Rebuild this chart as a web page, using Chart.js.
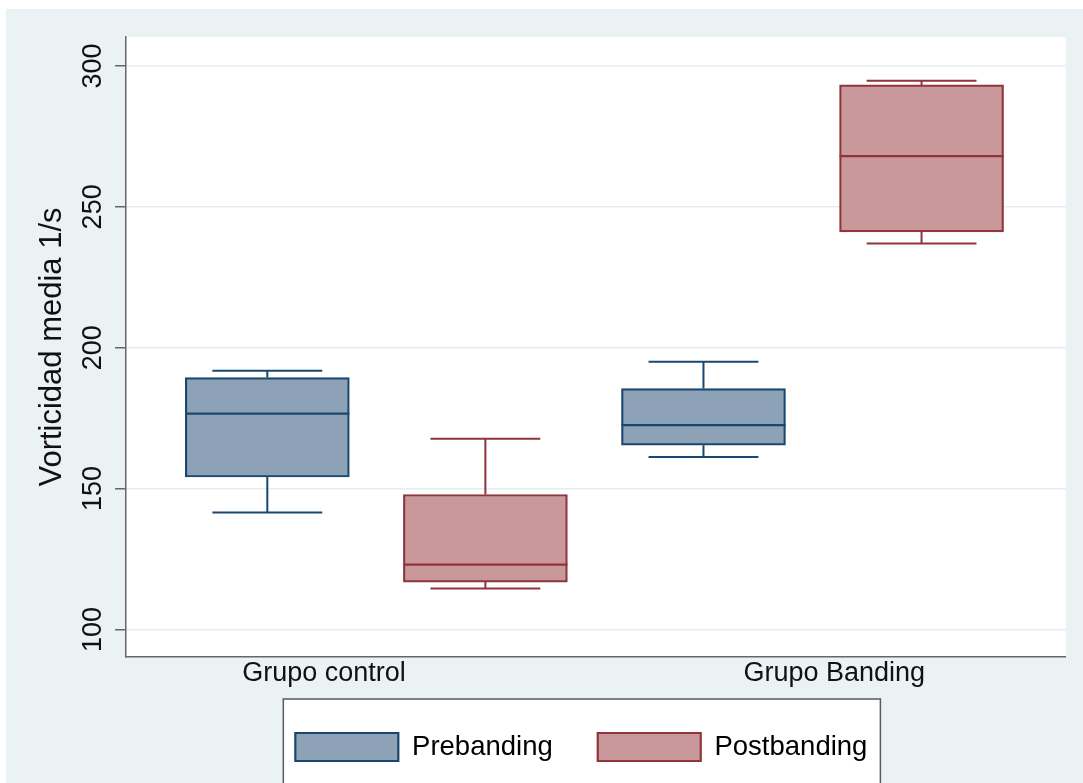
<!DOCTYPE html>
<html>
<head>
<meta charset="utf-8">
<title>Vorticidad media</title>
<script src="https://cdn.jsdelivr.net/npm/chart.js@4.4.1/dist/chart.umd.min.js"></script>
<style>
  html, body { margin: 0; padding: 0; background: #ffffff; }
  #wrap { position: absolute; left: 6px; top: 9px; width: 1077px; height: 774px; }
  canvas { display: block; }
</style>
</head>
<body>
<div id="wrap"><canvas id="chart" width="1077" height="774"></canvas></div>
<script>
// Groups and series
const groups = ['Grupo control', 'Grupo Banding'];
const seriesNames = ['Prebanding', 'Postbanding'];

// Five-number summaries per group (lower whisker, Q1, median, Q3, upper whisker)
const preMin    = [141.5, 161.2];
const preQ1     = [154.1, 165.4];
const preMedian = [176.6, 172.5];
const preQ3     = [189.4, 185.5];
const preMax    = [191.8, 195.0];

const postMin    = [114.5, 237.0];
const postQ1     = [116.8, 241.1];
const postMedian = [123.0, 268.0];
const postQ3     = [147.9, 293.3];
const postMax    = [167.7, 294.8];

// Y axis tick labels
const yTicks = [100, 150, 200, 250, 300];

// Box slots along the x axis (control pre/post, banding pre/post) and where group names sit
const preSlots = [1, 3];
const postSlots = [2, 4];
const groupLabelSlots = [1.26, 3.6];

const FONT = '"Liberation Sans", Arial, Helvetica, sans-serif';
const PRE_LINE = '#1A476F', PRE_FILL = '#8DA2B6';
const POST_LINE = '#90353B', POST_FILL = '#C8989B';

const boxData = (slots, q1, q3) => slots.map((x, i) => ({ x: x, y: [q1[i], q3[i]] }));

// Median line and whiskers drawn on top of each box, positioned through the y scale
const boxWhiskers = {
  id: 'boxWhiskers',
  afterDatasetsDraw(chart) {
    const ctx = chart.ctx;
    const yScale = chart.scales.y;
    chart.data.datasets.forEach((ds, di) => {
      const meta = chart.getDatasetMeta(di);
      meta.data.forEach((bar, i) => {
        const half = bar.width / 2;
        const cap = bar.width * 0.335;
        const pQ1 = yScale.getPixelForValue(ds.data[i].y[0]);
        const pQ3 = yScale.getPixelForValue(ds.data[i].y[1]);
        const pMed = yScale.getPixelForValue(ds.stats.median[i]);
        const pLo = yScale.getPixelForValue(ds.stats.min[i]);
        const pHi = yScale.getPixelForValue(ds.stats.max[i]);
        ctx.save();
        ctx.strokeStyle = ds.borderColor;
        ctx.lineCap = 'butt';
        ctx.lineWidth = 2.4;
        ctx.beginPath();
        ctx.moveTo(bar.x - half, pMed); ctx.lineTo(bar.x + half, pMed);
        ctx.stroke();
        ctx.lineWidth = 2;
        ctx.beginPath();
        ctx.moveTo(bar.x, pQ3); ctx.lineTo(bar.x, pHi);
        ctx.moveTo(bar.x - cap, pHi); ctx.lineTo(bar.x + cap, pHi);
        ctx.moveTo(bar.x, pQ1); ctx.lineTo(bar.x, pLo);
        ctx.moveTo(bar.x - cap, pLo); ctx.lineTo(bar.x + cap, pLo);
        ctx.stroke();
        ctx.restore();
      });
    });
  }
};

// Graph region tint, white plot region and the framed legend panel
const panels = {
  id: 'panels',
  afterLayout(chart) {
    chart.legend.left += 45.5;
    chart.legend.right += 45.5;
  },
  beforeDraw(chart) {
    const { ctx, chartArea: a, width, height } = chart;
    ctx.save();
    ctx.fillStyle = '#EAF2F3';
    ctx.fillRect(0, 0, width, height);
    ctx.fillStyle = '#ffffff';
    ctx.fillRect(a.left, a.top, a.right - a.left, a.bottom - a.top);
    const hb = chart.legend && chart.legend.legendHitBoxes;
    if (hb && hb.length) {
      const last = hb[hb.length - 1];
      const l = hb[0].left - 12;
      const r = last.left + last.width + 13;
      const t = hb[0].top - 34;
      ctx.fillStyle = '#ffffff';
      ctx.fillRect(l, t, r - l, height - t + 10);
      ctx.strokeStyle = '#5a5a5a';
      ctx.lineWidth = 1.5;
      ctx.strokeRect(l, t, r - l, height - t + 10);
    }
    ctx.restore();
  }
};

new Chart(document.getElementById('chart'), {
  type: 'bar',
  data: {
    datasets: [
      {
        label: seriesNames[0],
        data: boxData(preSlots, preQ1, preQ3),
        stats: { min: preMin, median: preMedian, max: preMax },
        backgroundColor: PRE_FILL,
        borderColor: PRE_LINE,
        borderWidth: 2.2,
        borderSkipped: false,
        grouped: false,
        barThickness: 164
      },
      {
        label: seriesNames[1],
        data: boxData(postSlots, postQ1, postQ3),
        stats: { min: postMin, median: postMedian, max: postMax },
        backgroundColor: POST_FILL,
        borderColor: POST_LINE,
        borderWidth: 2.2,
        borderSkipped: false,
        grouped: false,
        barThickness: 164
      }
    ]
  },
  options: {
    responsive: false,
    animation: false,
    devicePixelRatio: 1,
    layout: { padding: { top: 28, right: 17.3, bottom: 12, left: 0 } },
    plugins: {
      tooltip: { enabled: false },
      legend: {
        position: 'bottom',
        labels: {
          boxWidth: 103,
          boxHeight: 28,
          padding: 45,
          color: '#000000',
          font: { family: FONT, size: 27.5 }
        }
      }
    },
    scales: {
      x: {
        type: 'linear',
        min: 0.352,
        max: 4.661,
        offset: false,
        afterBuildTicks: (s) => { s.ticks = groupLabelSlots.map(v => ({ value: v })); },
        afterFit: (s) => { s.height = 31; },
        grid: { display: false, drawTicks: false, offset: false },
        border: { display: true, color: '#666666', width: 1.5 },
        ticks: {
          callback: (v, i) => groups[i],
          autoSkip: false,
          minRotation: 0,
          maxRotation: 0,
          padding: 0,
          color: '#111111',
          font: { family: FONT, size: 27 }
        }
      },
      y: {
        min: 90.2,
        max: 310.3,
        afterBuildTicks: (s) => { s.ticks = yTicks.map(v => ({ value: v })); },
        afterFit: (s) => { s.width = 120; },
        grid: {
          color: '#E4EEF0',
          lineWidth: 1.5,
          drawTicks: true,
          tickLength: 11,
          tickColor: '#666666',
          tickWidth: 1.5
        },
        border: { display: true, color: '#666666', width: 1.5 },
        ticks: {
          minRotation: 90,
          maxRotation: 90,
          crossAlign: 'center',
          padding: -1,
          color: '#111111',
          font: { family: FONT, size: 27 }
        },
        title: {
          display: true,
          text: 'Vorticidad media 1/s',
          color: '#111111',
          font: { family: FONT, size: 31 },
          padding: { top: 28, bottom: 0 }
        }
      }
    }
  },
  plugins: [panels, boxWhiskers]
});
</script>
</body>
</html>
